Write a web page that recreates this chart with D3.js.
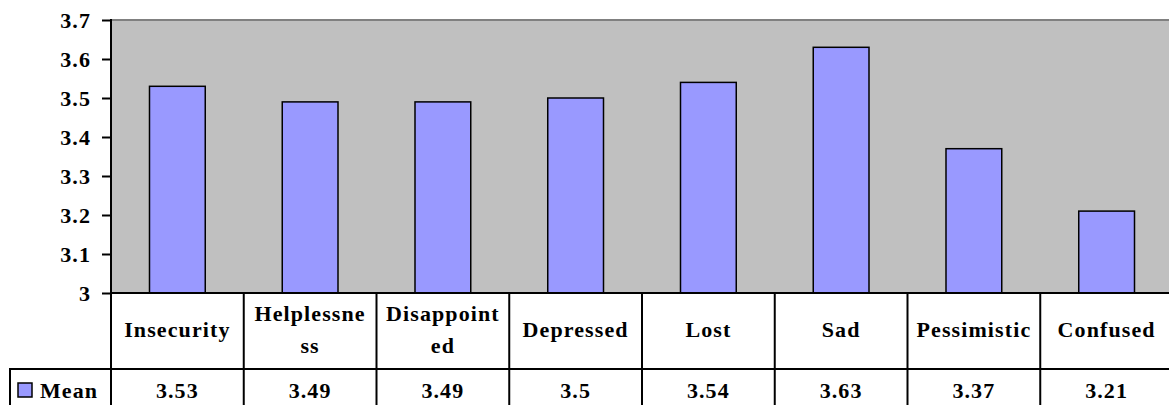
<!DOCTYPE html>
<html><head><meta charset="utf-8">
<script src="https://cdn.jsdelivr.net/npm/d3@7"></script>
<style>
html,body{margin:0;padding:0;background:#fff;overflow:hidden;}
</style></head>
<body>
<svg id="chart" width="1169" height="405"></svg>
<script>
const categories = ["Insecurity","Helplessness","Disappointed","Depressed","Lost","Sad","Pessimistic","Confused"];
const categoryLabelLines = [["Insecurity"],["Helplessne","ss"],["Disappoint","ed"],["Depressed"],["Lost"],["Sad"],["Pessimistic"],["Confused"]];
const meanValues = [3.53,3.49,3.49,3.5,3.54,3.63,3.37,3.21];
const meanLabels = ["3.53","3.49","3.49","3.5","3.54","3.63","3.37","3.21"];
const seriesName = "Mean";
const yTicks = [3,3.1,3.2,3.3,3.4,3.5,3.6,3.7];
const yTickLabels = ["3","3.1","3.2","3.3","3.4","3.5","3.6","3.7"];

(function () {
const svg = d3.select("#chart");
const pL = 111, pR = 1173, pT = 20, pB = 293, rowSplit = 369, tableBottom = 406, legendLeft = 10;
const x = d3.scaleBand().domain(categories).range([pL, pR]).paddingInner(0).paddingOuter(0);
const y = d3.scaleLinear().domain([3, 3.7]).range([pB, pT]);
const FS = 22, LS = 1.1;
const FF = "Liberation Serif";
const styleText = sel => sel.attr("font-family", FF).attr("font-size", FS).attr("font-weight", "bold")
  .attr("letter-spacing", LS).attr("fill", "#000");

// plot area
svg.append("rect").attr("x", pL).attr("y", pT).attr("width", pR - pL).attr("height", pB - pT).attr("fill", "#C0C0C0");
svg.append("line").attr("x1", pL).attr("x2", pR).attr("y1", pT).attr("y2", pT).attr("stroke", "#808080").attr("stroke-width", 2);

// bars
const bw = x.bandwidth() * 0.42;
svg.selectAll("rect.bar").data(meanValues).join("rect").attr("class", "bar")
  .attr("x", (d, i) => x(categories[i]) + x.bandwidth() / 2 - bw / 2)
  .attr("y", d => y(d))
  .attr("width", bw)
  .attr("height", d => y(3) - y(d))
  .attr("fill", "#9999FF").attr("stroke", "#000").attr("stroke-width", 1.5);

// y axis
const yAxis = d3.axisLeft(y).tickValues(yTicks).tickFormat((d, i) => yTickLabels[i]).tickSize(9).tickPadding(11);
const ya = svg.append("g").attr("transform", `translate(${pL},0)`).call(yAxis);
ya.call(styleText);
ya.select(".domain").remove();
ya.selectAll(".tick line").attr("stroke", "#000").attr("stroke-width", 2);
ya.selectAll(".tick text").call(styleText).attr("dy", "0.34em");
svg.append("line").attr("x1", pL).attr("x2", pL).attr("y1", pT - 1).attr("y2", tableBottom).attr("stroke", "#000").attr("stroke-width", 2);

// table lines
svg.append("line").attr("x1", pL - 1).attr("x2", pR).attr("y1", pB).attr("y2", pB).attr("stroke", "#000").attr("stroke-width", 2);
svg.append("line").attr("x1", legendLeft - 1).attr("x2", pR).attr("y1", rowSplit).attr("y2", rowSplit).attr("stroke", "#000").attr("stroke-width", 2);
svg.append("line").attr("x1", legendLeft).attr("x2", legendLeft).attr("y1", rowSplit).attr("y2", tableBottom).attr("stroke", "#000").attr("stroke-width", 2);
svg.selectAll("line.vsep").data(categories.slice(1)).join("line").attr("class", "vsep")
  .attr("x1", d => x(d)).attr("x2", d => x(d)).attr("y1", pB).attr("y2", tableBottom)
  .attr("stroke", "#000").attr("stroke-width", 2);

// category labels
categories.forEach((c, i) => {
  const lines = categoryLabelLines[i];
  const lh = 32;
  const first = lines.length > 1 ? 321 : 337;
  const t = svg.append("text").attr("text-anchor", "middle").call(styleText);
  lines.forEach((ln, j) => {
    t.append("tspan").attr("x", x(c) + x.bandwidth() / 2).attr("y", first + j * lh).text(ln);
  });
});

// values row
svg.selectAll("text.val").data(meanLabels).join("text").attr("class", "val")
  .attr("x", (d, i) => x(categories[i]) + x.bandwidth() / 2).attr("y", 398)
  .attr("text-anchor", "middle").call(styleText).text(d => d);

// legend
svg.append("rect").attr("x", 18).attr("y", 383).attr("width", 14).attr("height", 14)
  .attr("fill", "#9999FF").attr("stroke", "#000").attr("stroke-width", 1.5);
svg.append("text").attr("x", 40).attr("y", 398).call(styleText).text(seriesName);
})();
</script>
</body></html>
